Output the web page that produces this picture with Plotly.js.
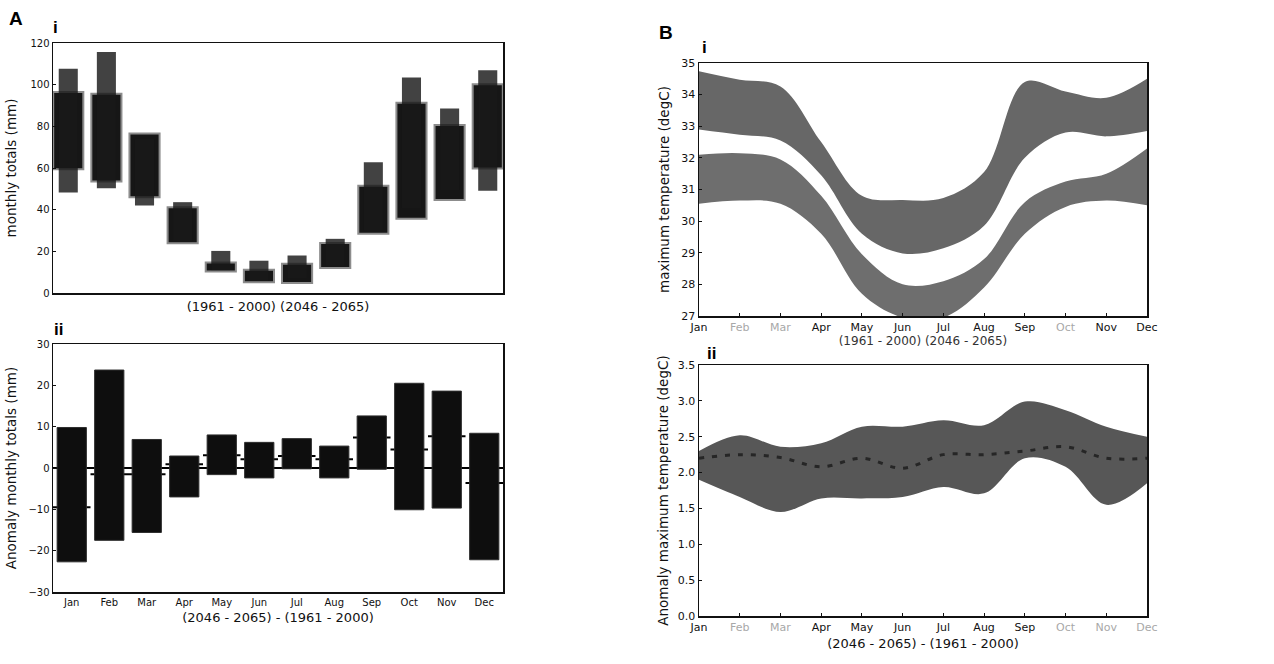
<!DOCTYPE html>
<html>
<head>
<meta charset="utf-8">
<script src="https://cdn.plot.ly/plotly-3.0.1.min.js"></script>
<style>html,body{margin:0;padding:0;background:#fff;}#chart{width:1274px;height:664px;}</style>
</head>
<body>
<div id="chart"></div>
<script>
// ---------- data ----------
const months = ['Jan','Feb','Mar','Apr','May','Jun','Jul','Aug','Sep','Oct','Nov','Dec'];

// A i: monthly precipitation totals (mm), ranges
const precipHistLow  = [59.4, 53.5, 46.0, 23.9, 10.3, 5.1, 4.8, 12.0, 28.4, 35.6, 44.7, 59.8];
const precipHistHigh = [96.5, 95.7, 76.6, 41.2, 14.6, 11.2, 14.0, 24.0, 51.5, 91.3, 80.6, 100.2];
const precipFutLow   = [48.3, 50.3, 42.0, 25.0, 11.0, 6.0, 7.0, 13.0, 30.0, 40.7, 49.5, 49.1];
const precipFutHigh  = [107.7, 115.7, 74.0, 43.6, 20.2, 15.5, 18.0, 26.0, 62.7, 103.4, 88.6, 106.9];

// A ii: anomaly monthly totals (mm)
const anomPrecipLow    = [-22.7, -17.5, -15.6, -7.0, -1.6, -2.4, -0.2, -2.4, -0.3, -10.1, -9.7, -22.2];
const anomPrecipHigh   = [9.8, 23.7, 6.9, 2.9, 8.0, 6.2, 7.1, 5.3, 12.6, 20.5, 18.6, 8.4];
const anomPrecipMedian = [-9.5, -1.5, -1.5, 0.9, 3.1, 2.1, 2.9, 2.1, 7.4, 4.5, 7.7, -3.6];

// B i: maximum temperature (degC) bands
const tmaxHistLow  = [30.55, 30.65, 30.55, 29.6, 27.7, 26.95, 26.95, 27.9, 29.6, 30.45, 30.65, 30.5];
const tmaxHistHigh = [32.1, 32.15, 31.95, 30.8, 28.95, 28.0, 28.1, 28.8, 30.6, 31.25, 31.5, 32.3];
const tmaxFutLow   = [32.9, 32.73, 32.55, 31.45, 29.6, 28.98, 29.14, 29.85, 32.0, 32.8, 32.68, 32.85];
const tmaxFutHigh  = [34.74, 34.47, 34.26, 32.5, 30.8, 30.67, 30.73, 31.55, 34.4, 34.1, 33.9, 34.5];

// B ii: anomaly maximum temperature (degC)
const anomTmaxLow    = [1.9, 1.66, 1.45, 1.64, 1.64, 1.66, 1.8, 1.71, 2.2, 2.08, 1.55, 1.85];
const anomTmaxHigh   = [2.3, 2.52, 2.36, 2.41, 2.64, 2.64, 2.73, 2.66, 2.99, 2.87, 2.64, 2.5];
const anomTmaxMedian = [2.2, 2.25, 2.21, 2.08, 2.2, 2.06, 2.25, 2.25, 2.3, 2.36, 2.2, 2.2];

// ---------- helpers ----------
const idx = months.map((m, i) => i);
const diff = (hi, lo) => hi.map((v, i) => v - lo[i]);
const stepX = [], stepY = [];
anomPrecipMedian.forEach((v, i) => { stepX.push(i - 0.5, i + 0.5, null); stepY.push(v, v, null); });
const fadedB1 = ['Feb', 'Mar', 'Oct'];
const fadedB2 = ['Feb', 'Mar', 'Oct', 'Nov', 'Dec'];
const fade = (list) => months.map(m => list.includes(m) ? '<span style="color:#a8a8a8">' + m + '</span>' : m);

const FONT = 'DejaVu Sans, sans-serif';

const traces = [
  // A i
  {type: 'bar', x: idx, y: diff(precipHistHigh, precipHistLow), base: precipHistLow, width: 0.79,
   xaxis: 'x', yaxis: 'y', name: '1961 - 2000',
   marker: {color: '#161616', line: {color: '#8c8c8c', width: 2}}},
  {type: 'bar', x: idx, y: diff(precipFutHigh, precipFutLow), base: precipFutLow, width: 0.5,
   xaxis: 'x', yaxis: 'y', name: '2046 - 2065',
   marker: {color: 'rgba(25,25,25,0.82)', line: {width: 0}}},
  // A ii (step line on base axes, bars on overlaying axes so they sit above it)
  {type: 'scatter', mode: 'lines', x: stepX, y: stepY, xaxis: 'x2', yaxis: 'y2', connectgaps: false,
   line: {color: '#000', width: 2}, name: 'median'},
  {type: 'bar', x: idx, y: diff(anomPrecipHigh, anomPrecipLow), base: anomPrecipLow, width: 0.78,
   xaxis: 'x5', yaxis: 'y5', name: 'anomaly',
   marker: {color: '#0e0e0e', line: {color: '#2e2e2e', width: 1}}},
  // B i
  {type: 'scatter', mode: 'lines', x: idx, y: tmaxHistLow, xaxis: 'x3', yaxis: 'y3',
   line: {width: 0, shape: 'spline', color: '#6e6e6e'}, name: 'hist low'},
  {type: 'scatter', mode: 'lines', x: idx, y: tmaxHistHigh, xaxis: 'x3', yaxis: 'y3', fill: 'tonexty',
   fillcolor: '#6e6e6e', line: {width: 0, shape: 'spline', color: '#6e6e6e'}, name: '1961 - 2000'},
  {type: 'scatter', mode: 'lines', x: idx, y: tmaxFutLow, xaxis: 'x3', yaxis: 'y3',
   line: {width: 0, shape: 'spline', color: '#676767'}, name: 'fut low'},
  {type: 'scatter', mode: 'lines', x: idx, y: tmaxFutHigh, xaxis: 'x3', yaxis: 'y3', fill: 'tonexty',
   fillcolor: '#676767', line: {width: 0, shape: 'spline', color: '#676767'}, name: '2046 - 2065'},
  // B ii
  {type: 'scatter', mode: 'lines', x: idx, y: anomTmaxLow, xaxis: 'x4', yaxis: 'y4',
   line: {width: 0, shape: 'spline', color: '#575757'}, name: 'anom low'},
  {type: 'scatter', mode: 'lines', x: idx, y: anomTmaxHigh, xaxis: 'x4', yaxis: 'y4', fill: 'tonexty',
   fillcolor: '#575757', line: {width: 0, shape: 'spline', color: '#575757'}, name: 'anom range'},
  {type: 'scatter', mode: 'lines', x: idx, y: anomTmaxMedian, xaxis: 'x4', yaxis: 'y4',
   line: {width: 3, shape: 'spline', color: '#262626', dash: '5px,8px'}, name: 'anom median'}
];

const axBase = {
  showline: true, mirror: true, linecolor: '#111', linewidth: 1.5,
  showgrid: false, zeroline: false, ticks: 'inside', ticklen: 3, tickcolor: '#111',
  tickfont: {family: FONT, size: 10, color: '#111'}, automargin: false
};
const W = 1274, H = 664;
const dx = (a, b) => [a / W, b / W];
const dy = (top, bottom) => [1 - bottom / H, 1 - top / H];
const tfB = {family: FONT, size: 11, color: '#111'};

const layout = {
  width: W, height: H, margin: {l: 0, r: 0, t: 0, b: 0},
  paper_bgcolor: '#fff', plot_bgcolor: '#fff', showlegend: false, barmode: 'overlay',
  font: {family: FONT, color: '#111'},
  xaxis: Object.assign({}, axBase, {domain: dx(53, 503), range: [-0.4, 11.4], anchor: 'y',
    showticklabels: false, ticks: '',
    title: {text: '(1961 - 2000) (2046 - 2065)', font: {family: FONT, size: 13, color: '#111'}, standoff: 8}}),
  yaxis: Object.assign({}, axBase, {domain: dy(43, 293), range: [0, 120], anchor: 'x',
    tickvals: [0, 20, 40, 60, 80, 100, 120],
    title: {text: 'monthly totals (mm)', font: {family: FONT, size: 13.5, color: '#111'}, standoff: 10}}),
  xaxis2: Object.assign({}, axBase, {domain: dx(53, 503), range: [-0.5, 11.5], anchor: 'y2',
    tickvals: idx, ticktext: months, ticks: '',
    title: {text: '(2046 - 2065) - (1961 - 2000)', font: {family: FONT, size: 13, color: '#111'}, standoff: 6}}),
  yaxis2: Object.assign({}, axBase, {domain: dy(344, 592), range: [-30, 30], anchor: 'x2',
    tickvals: [-30, -20, -10, 0, 10, 20, 30],
    title: {text: 'Anomaly monthly totals (mm)', font: {family: FONT, size: 13.5, color: '#111'}, standoff: 8}}),
  xaxis5: {overlaying: 'x2', range: [-0.5, 11.5], anchor: 'y5', visible: false},
  yaxis5: {overlaying: 'y2', range: [-30, 30], anchor: 'x5', visible: false},
  xaxis3: Object.assign({}, axBase, {domain: dx(699, 1147), range: [0, 11], anchor: 'y3',
    tickvals: idx, ticktext: fade(fadedB1), tickfont: tfB,
    title: {text: '(1961 - 2000) (2046 - 2065)', font: {family: FONT, size: 12, color: '#333'}, standoff: 2}}),
  yaxis3: Object.assign({}, axBase, {domain: dy(63, 316), range: [27, 35], anchor: 'x3',
    tickvals: [27, 28, 29, 30, 31, 32, 33, 34, 35], tickfont: tfB,
    title: {text: 'maximum temperature (degC)', font: {family: FONT, size: 13.5, color: '#111'}, standoff: 8}}),
  xaxis4: Object.assign({}, axBase, {domain: dx(699, 1147), range: [0, 11], anchor: 'y4',
    tickvals: idx, ticktext: fade(fadedB2), tickfont: tfB,
    title: {text: '(2046 - 2065) - (1961 - 2000)', font: {family: FONT, size: 13, color: '#111'}, standoff: 6}}),
  yaxis4: Object.assign({}, axBase, {domain: dy(365, 616), range: [0, 3.5], anchor: 'x4',
    tickvals: [0, 0.5, 1, 1.5, 2, 2.5, 3, 3.5], tickformat: '.1f', tickfont: tfB,
    title: {text: 'Anomaly maximum temperature (degC)', font: {family: FONT, size: 13.5, color: '#111'}, standoff: 6}}),
  shapes: [
    {type: 'line', xref: 'x2 domain', yref: 'y2', x0: 0, x1: 1, y0: 0, y1: 0,
     line: {color: '#000', width: 2}, layer: 'below'}
  ],
  annotations: [
    {text: '<b>A</b>', x: 7 / W, y: 1 - 6 / H, xref: 'paper', yref: 'paper', xanchor: 'left', yanchor: 'top',
     showarrow: false, font: {family: 'Liberation Sans, Arial, sans-serif', size: 19, color: '#000'}},
    {text: '<b>i</b>', x: 51 / W, y: 1 - 16 / H, xref: 'paper', yref: 'paper', xanchor: 'left', yanchor: 'top',
     showarrow: false, font: {family: 'Liberation Sans, Arial, sans-serif', size: 17, color: '#000'}},
    {text: '<b>ii</b>', x: 52 / W, y: 1 - 318 / H, xref: 'paper', yref: 'paper', xanchor: 'left', yanchor: 'top',
     showarrow: false, font: {family: 'Liberation Sans, Arial, sans-serif', size: 17, color: '#000'}},
    {text: '<b>B</b>', x: 657 / W, y: 1 - 20 / H, xref: 'paper', yref: 'paper', xanchor: 'left', yanchor: 'top',
     showarrow: false, font: {family: 'Liberation Sans, Arial, sans-serif', size: 19, color: '#000'}},
    {text: '<b>i</b>', x: 700 / W, y: 1 - 36 / H, xref: 'paper', yref: 'paper', xanchor: 'left', yanchor: 'top',
     showarrow: false, font: {family: 'Liberation Sans, Arial, sans-serif', size: 17, color: '#000'}},
    {text: '<b>ii</b>', x: 705 / W, y: 1 - 342 / H, xref: 'paper', yref: 'paper', xanchor: 'left', yanchor: 'top',
     showarrow: false, font: {family: 'Liberation Sans, Arial, sans-serif', size: 17, color: '#000'}}
  ]
};

Plotly.newPlot('chart', traces, layout, {staticPlot: true, displayModeBar: false});
</script>
</body>
</html>
